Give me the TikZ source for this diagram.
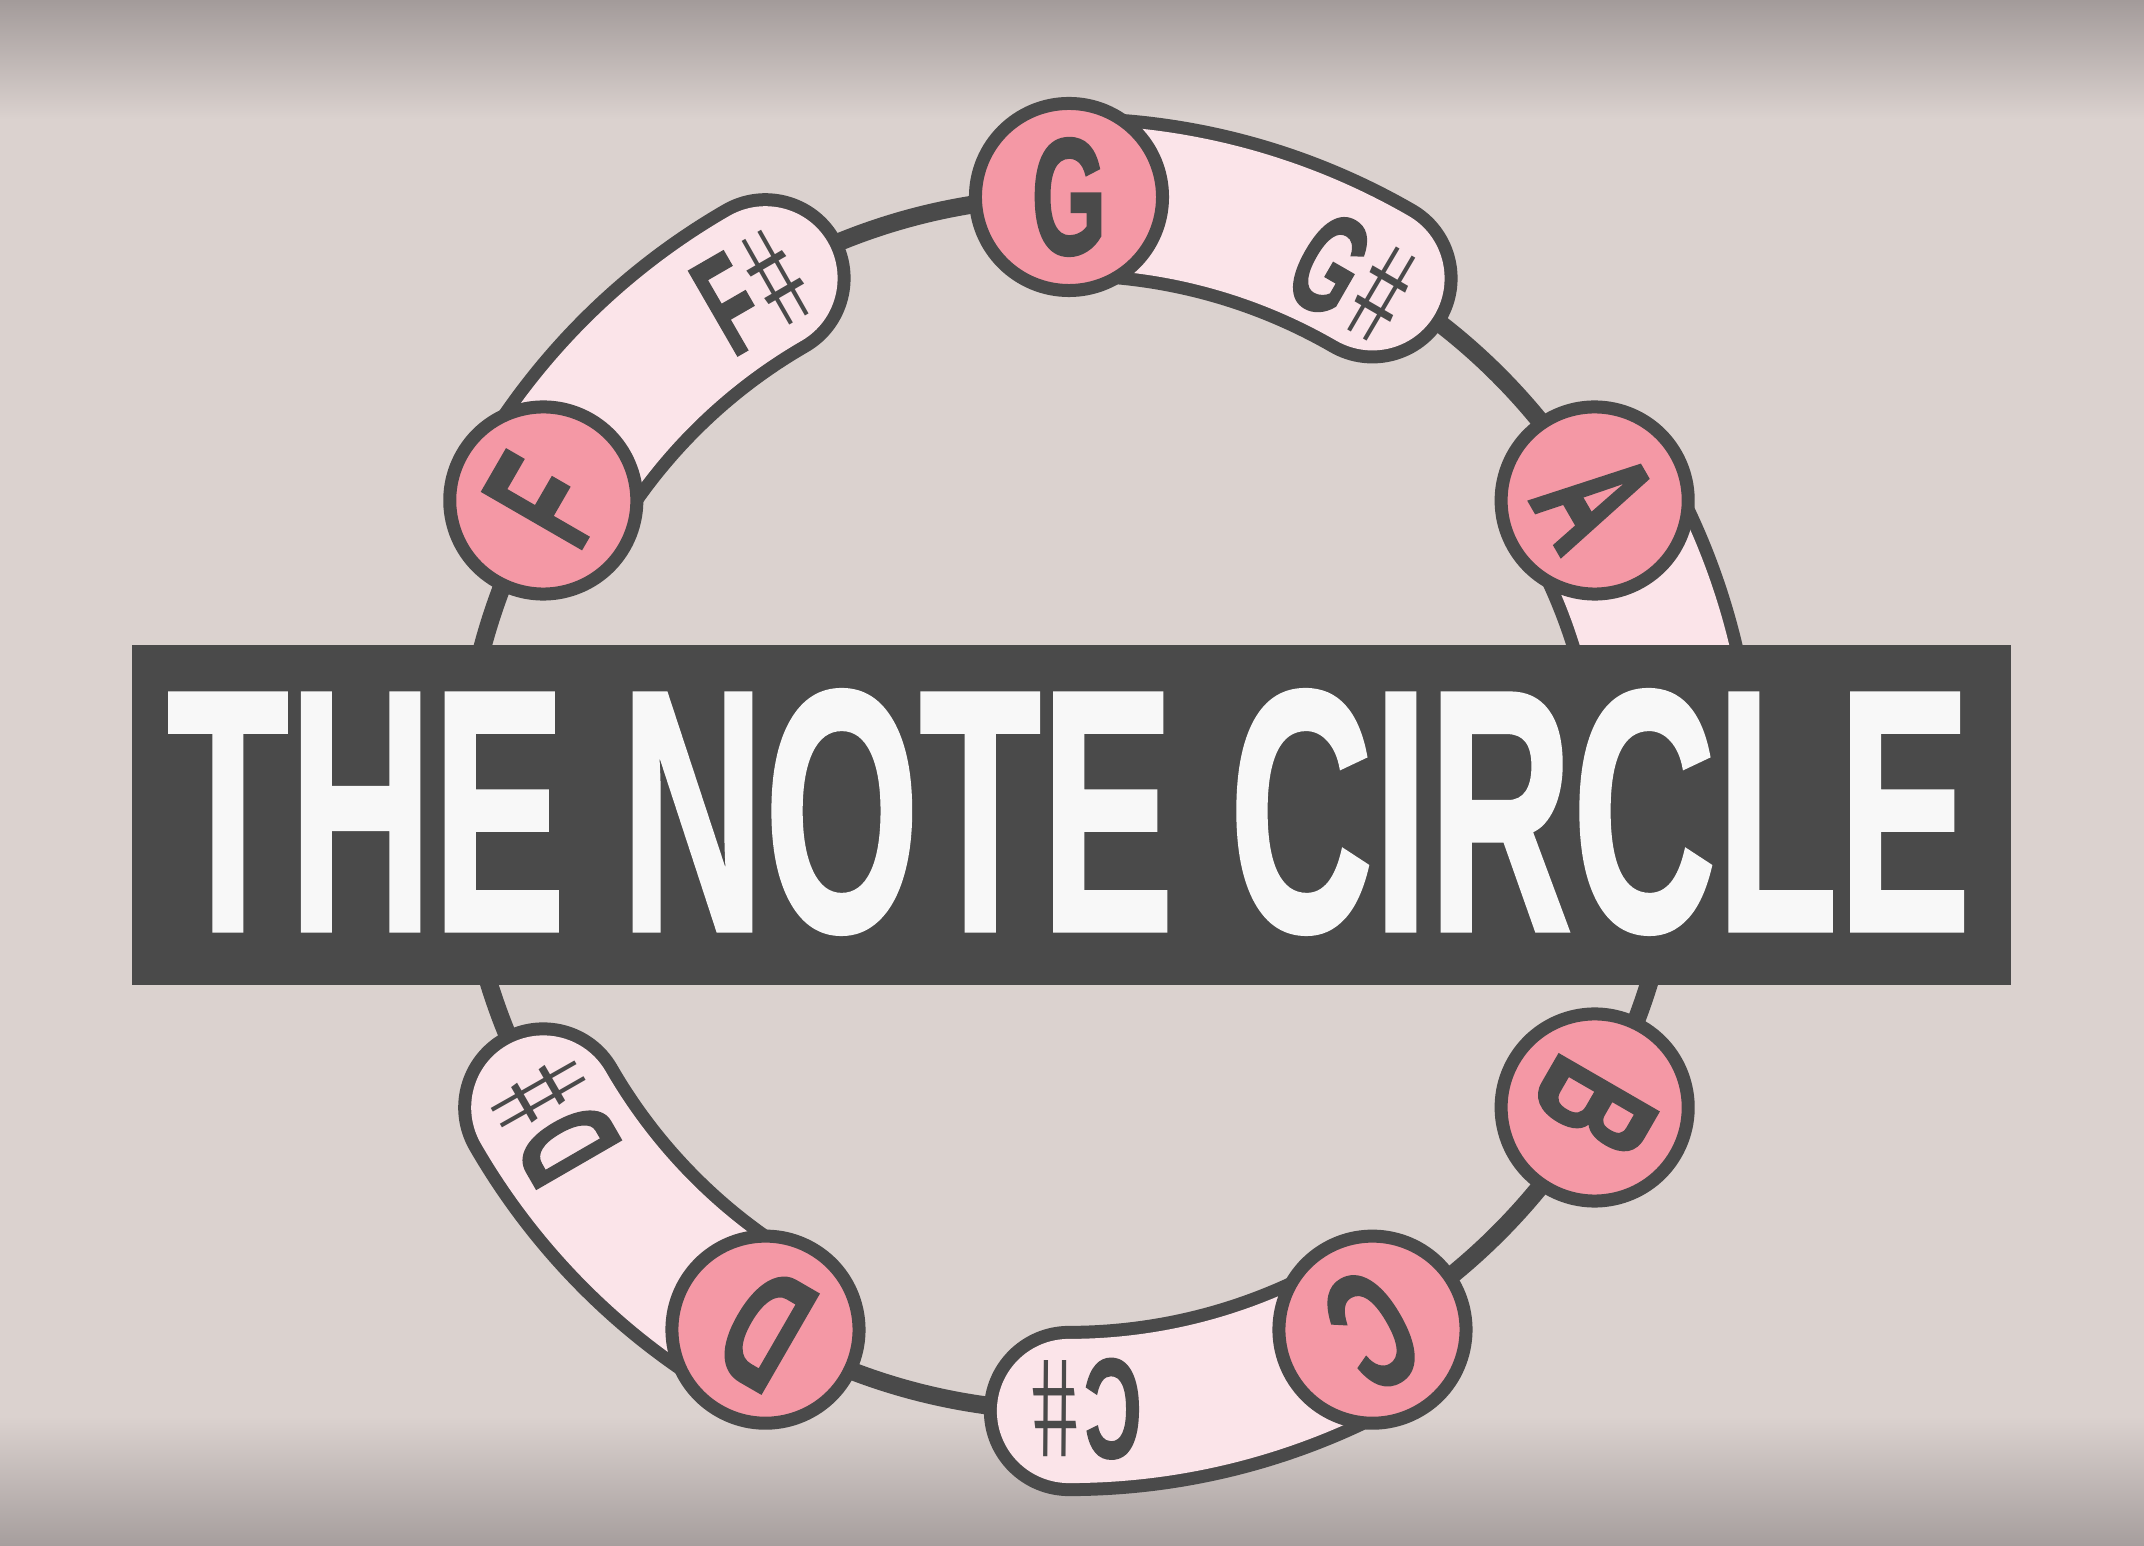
\documentclass[tikz,border=0pt]{standalone}
\usepackage{fontspec}
\usepackage{graphicx}
\newfontfamily\lsb{Liberation Sans}[BoldFeatures={FakeBold=2}]
\newfontfamily\lst{Liberation Sans}[BoldFeatures={FakeBold=1.2}]
\newfontfamily\hashf{Liberation Sans}[FakeSlant=-0.2]
\definecolor{bg}{HTML}{DBD2CF}
\definecolor{vtop}{HTML}{A39B9A}
\definecolor{vbot}{HTML}{A69E9D}
\definecolor{dk}{HTML}{4A4A4A}
\definecolor{pk}{HTML}{F498A5}
\definecolor{lp}{HTML}{FBE4E9}
\definecolor{tw}{HTML}{F8F8F8}
\newcommand{\cnd}[2][0.56]{\scalebox{#1}[1]{#2}}
\newcommand{\shl}[1]{\scalebox{0.56}[1]{#1\kern0.16em{\hashf\mdseries\#}}}
\begin{document}
\begin{tikzpicture}[x=0.01cm,y=0.01cm,
  ringline/.style={line width=5.1pt, draw=dk},
  capout/.style={line width=48.4pt, draw=dk, line cap=round},
  capin/.style={line width=41pt, draw=lp, line cap=round},
  natural/.style={circle, draw=dk, fill=pk, line width=3.7pt, minimum size=53.2pt, inner sep=0pt, text=dk, font=\lsb\bfseries\fontsize{47}{47}\selectfont},
  sharp/.style={inner sep=0pt, text=dk, font=\lsb\bfseries\fontsize{40}{40}\selectfont},
  banner/.style={fill=dk, inner sep=0pt, minimum width=534.2pt, minimum height=96.74pt},
  titletext/.style={inner sep=0pt, text=tw, font=\lst\bfseries\fontsize{98}{98}\selectfont}]
% background
\fill[bg] (-1069,-742) rectangle (1075,804);
\shade[top color=vtop, bottom color=bg] (-1069,684) rectangle (1075,804);
\shade[bottom color=vbot, top color=bg] (-1069,-742) rectangle (1075,-612);
\useasboundingbox (-1069,-742) rectangle (1075,804);
% ring
\coordinate (O) at (0,0);
\draw[ringline] (O) circle[radius=607];
% capsules (natural -> sharp)
\foreach \a/\b in {90/60, 30/0, -60/-90, -120/-150, 150/120}{
  \draw[capout] (\a:607) arc[start angle=\a, end angle=\b, radius=607];
  \draw[capin] (\a:607) arc[start angle=\a, end angle=\b, radius=607];
}
% sharp labels
\node[sharp, rotate=-30] (Gs) at (61.5:598) {\shl{G}};
\node[sharp, rotate=30] (Fs) at (121.5:603) {\shl{F}};
\node[sharp, rotate=180] (Cs) at (-88.5:605) {\shl{C}};
\node[sharp, rotate=120] (Ds) at (-148.5:605) {\shl{D}};
% natural notes
\node[natural] (G) at (90:607) {\cnd[0.58]{G}};
\node[natural, rotate=-60] (A) at (30:607) {\cnd[0.58]{A}};
\node[natural, rotate=-120] (B) at (-30:607) {\cnd[0.58]{B}};
\node[natural, rotate=-150] (C) at (-60:607) {\cnd[0.58]{C}};
\node[natural, rotate=150] (D) at (-120:607) {\cnd[0.58]{D}};
\node[natural, rotate=60] (F) at (150:607) {\cnd[0.58]{F}};
% banner and title
\node[banner] (ban) at (2.25,-11) {};
\node[titletext] (title) at (0,-8) {\cnd[0.578]{THE NOTE CIRCLE}};
\end{tikzpicture}
\end{document}
